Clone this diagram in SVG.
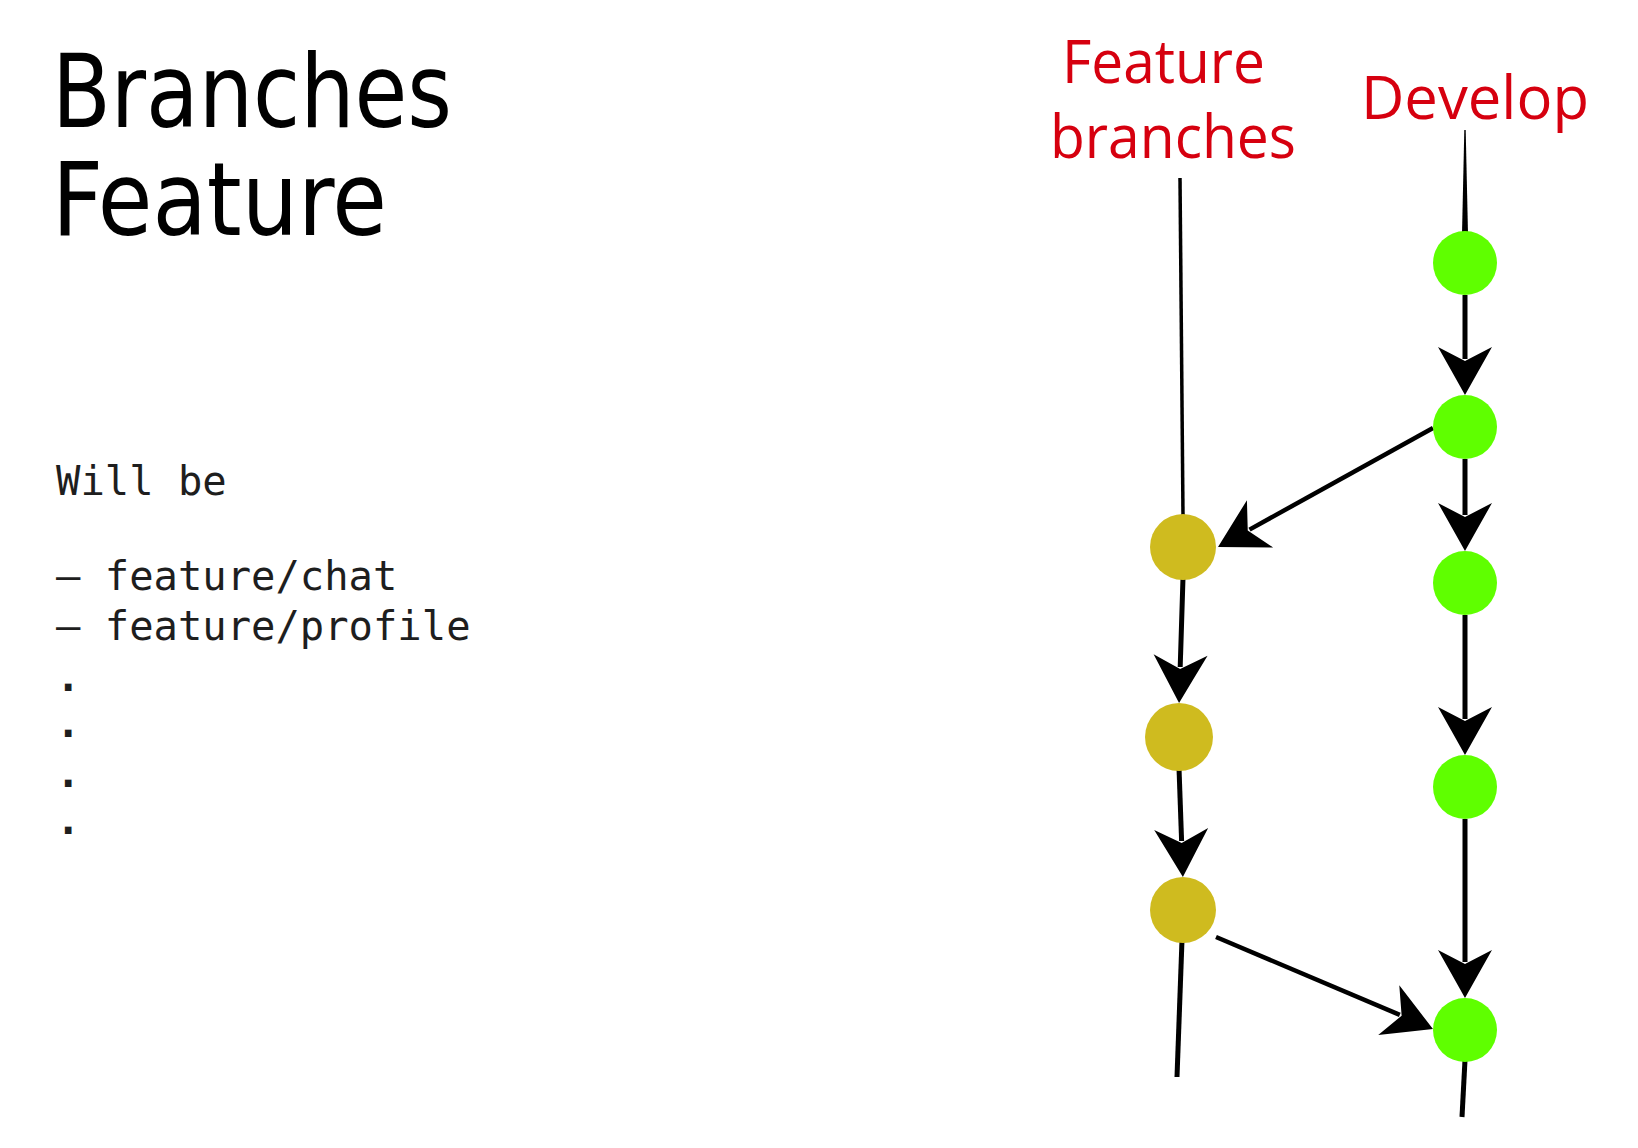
<svg xmlns="http://www.w3.org/2000/svg" width="1638" height="1148" viewBox="0 0 1638 1148">
<style>
.title{font-family:"DejaVu Sans Condensed","DejaVu Sans",sans-serif;font-stretch:condensed;font-size:101px;fill:#000}
.mono{font-family:"DejaVu Sans Mono","Liberation Mono",monospace;font-size:40.5px;fill:#1e1e1e}
.dot{font-weight:bold}
.lbl{font-family:"Open Sans","Noto Sans",sans-serif;font-size:60px;fill:#d6000f}
.dev{fill:#5fff00}
.feat{fill:#cfbb1f}
.edge{stroke:#000;stroke-width:5;fill:none}
.arr{marker-end:url(#ah)}
</style>
<defs>
<marker id="ah" markerUnits="userSpaceOnUse" orient="auto" overflow="visible" refX="0" refY="0" markerWidth="1" markerHeight="1">
<path d="M36,0 Q11,-14 -12,-27 L2,0 L-12,27 Q11,14 36,0 Z" fill="#000"/>
</marker>
</defs>
<rect width="1638" height="1148" fill="#fff"/>
<g id="title">
<text class="title" x="52" y="127" textLength="400" lengthAdjust="spacingAndGlyphs">Branches</text>
<text class="title" x="52" y="235" textLength="335" lengthAdjust="spacingAndGlyphs">Feature</text>
</g>
<g id="notes">
<text class="mono" x="56" y="495">Will be</text>
<text class="mono" x="56" y="590">– feature/chat</text>
<text class="mono" x="56" y="640">– feature/profile</text>
<text class="mono dot" x="56" y="691">.</text>
<text class="mono dot" x="56" y="737">.</text>
<text class="mono dot" x="56" y="787">.</text>
<text class="mono dot" x="56" y="834">.</text>
</g>
<g id="label-feature">
<text class="lbl" x="1062" y="83" textLength="203" lengthAdjust="spacingAndGlyphs">Feature</text>
<text class="lbl" x="1050" y="158" textLength="246" lengthAdjust="spacingAndGlyphs">branches</text>
</g>
<g id="label-develop">
<text class="lbl" x="1361" y="119" textLength="228" lengthAdjust="spacingAndGlyphs">Develop</text>
</g>
<g id="connectors">
<path d="M1464.3,130 L1465.7,130 L1468,234 L1462,234 Z" fill="#000"/>
<line class="edge arr" x1="1465" y1="295" x2="1465" y2="359"/>
<line class="edge arr" x1="1465" y1="459" x2="1465" y2="515"/>
<line class="edge arr" x1="1465" y1="615" x2="1465" y2="719"/>
<line class="edge arr" x1="1465" y1="819" x2="1465" y2="962"/>
<line class="edge" x1="1465" y1="1060" x2="1462" y2="1117"/>
<line class="edge" style="stroke-width:3.5" x1="1180" y1="178" x2="1183" y2="515"/>
<line class="edge arr" x1="1183" y1="578" x2="1180.2" y2="667"/>
<line class="edge arr" x1="1179" y1="768" x2="1181.6" y2="841"/>
<line class="edge" x1="1182" y1="940" x2="1177" y2="1077"/>
<line class="edge arr" style="stroke-width:4.5" x1="1433" y1="428" x2="1249.5" y2="529.6"/>
<line class="edge arr" style="stroke-width:4.5" x1="1216" y1="937" x2="1399.8" y2="1014.9"/>
</g>
<g id="develop-1"><circle class="dev" cx="1465" cy="263" r="32"/></g>
<g id="develop-2"><circle class="dev" cx="1465" cy="427" r="32"/></g>
<g id="develop-3"><circle class="dev" cx="1465" cy="583" r="32"/></g>
<g id="develop-4"><circle class="dev" cx="1465" cy="787" r="32"/></g>
<g id="develop-5"><circle class="dev" cx="1465" cy="1030" r="32"/></g>
<g id="feature-1"><circle class="feat" cx="1183" cy="547" r="33"/></g>
<g id="feature-2"><circle class="feat" cx="1179" cy="737" r="34"/></g>
<g id="feature-3"><circle class="feat" cx="1183" cy="910" r="33"/></g>
</svg>
